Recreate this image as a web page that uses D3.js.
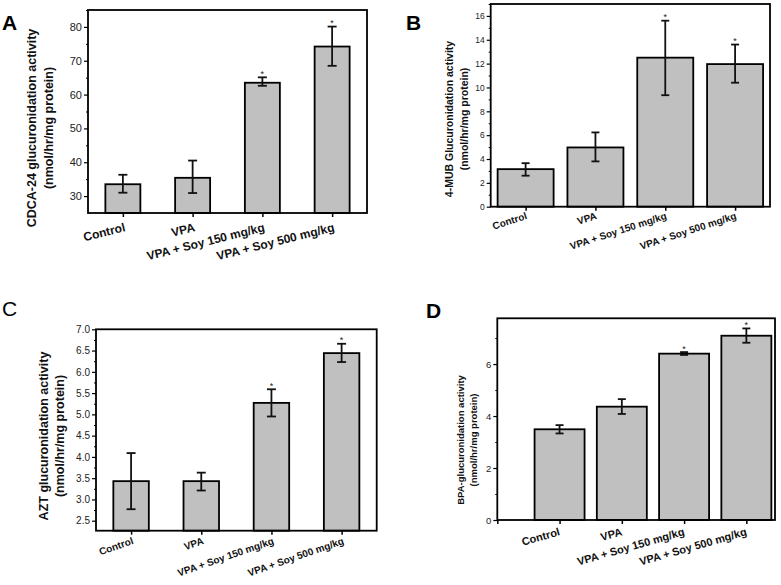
<!DOCTYPE html>
<html><head><meta charset="utf-8">
<script src="https://cdn.jsdelivr.net/npm/d3@7"></script>
<style>body{margin:0;background:#fff}svg{display:block}text{font-family:"Liberation Sans",Arial,sans-serif}</style>
</head><body>
<svg id="c" width="781" height="585"></svg>
<script>
// ---- data ----
const categories = ["Control", "VPA", "VPA + Soy 150 mg/kg", "VPA + Soy 500 mg/kg"];
const cdcaMean = [33.5, 35.4, 63.5, 74.2];
const cdcaErrHi = [36.3, 40.5, 65.1, 80.1];
const cdcaErrLo = [31.0, 30.9, 62.6, 68.5];
const cdcaSig = [false, false, true, true];
const mubMean = [3.15, 4.97, 12.5, 11.96];
const mubErrHi = [3.65, 6.23, 15.6, 13.6];
const mubErrLo = [2.6, 3.8, 9.35, 10.4];
const mubSig = [false, false, true, true];
const aztMean = [3.43, 3.43, 5.27, 6.44];
const aztErrHi = [4.09, 3.63, 5.59, 6.66];
const aztErrLo = [2.77, 3.21, 4.95, 6.23];
const aztSig = [false, false, true, true];
const bpaMean = [3.49, 4.36, 6.4, 7.09];
const bpaErrHi = [3.65, 4.65, 6.46, 7.37];
const bpaErrLo = [3.33, 4.08, 6.35, 6.82];
const bpaSig = [false, false, true, true];
const ticksA = [30, 40, 50, 60, 70, 80];
const ticksB = [0, 2, 4, 6, 8, 10, 12, 14, 16];
const ticksC = [2.5, 3.0, 3.5, 4.0, 4.5, 5.0, 5.5, 6.0, 6.5, 7.0];
const ticksD = [0, 2, 4, 6];

const svg = d3.select("#c");

function panel(o) {
  const g = svg.append("g");
  const x = d3.scaleLinear().domain(o.xDomain).range([o.L, o.R]);
  const y = d3.scaleLinear().domain(o.yDomain).range([o.B, o.T]);
  // bars
  g.selectAll("rect.bar").data(o.mean).join("rect")
    .attr("x", (d, i) => x(i) - o.bw / 2).attr("width", o.bw)
    .attr("y", d => y(d)).attr("height", d => y(o.yDomain[0]) - y(d))
    .attr("fill", "#c0c0c0").attr("stroke", "#000").attr("stroke-width", 1.8);
  // error bars
  const eb = g.append("g").attr("stroke", "#111").attr("stroke-width", 1.8);
  o.mean.forEach((d, i) => {
    const cx = x(i);
    eb.append("line").attr("x1", cx).attr("x2", cx).attr("y1", y(o.hi[i])).attr("y2", y(o.lo[i]));
    eb.append("line").attr("x1", cx - o.cap).attr("x2", cx + o.cap).attr("y1", y(o.hi[i])).attr("y2", y(o.hi[i]));
    eb.append("line").attr("x1", cx - o.cap).attr("x2", cx + o.cap).attr("y1", y(o.lo[i])).attr("y2", y(o.lo[i]));
    if (o.sig[i]) g.append("text").attr("x", cx).attr("y", y(o.hi[i]) - 0.5).attr("text-anchor", "middle")
      .attr("font-size", 9).attr("fill", "#222").text("*");
  });
  // y axis
  const ya = d3.axisLeft(y).tickValues(o.ticks).tickSize(4).tickPadding(2).tickFormat(o.fmt);
  const ay = g.append("g").attr("transform", `translate(${o.L},0)`).call(ya);
  ay.select(".domain").remove();
  ay.selectAll("text").attr("font-size", o.tfs).attr("font-weight", o.tfw).attr("fill", "#222").style("font-family", "Liberation Sans, Arial");
  ay.selectAll("line").attr("stroke-width", 1.2);
  const ym = d3.axisLeft(y).tickValues(o.minor).tickSize(2).tickFormat("");
  const aym = g.append("g").attr("transform", `translate(${o.L},0)`).call(ym);
  aym.select(".domain").remove();
  // x ticks
  const xa = d3.axisBottom(x).tickValues(o.xt).tickSize(4).tickFormat("");
  const ax = g.append("g").attr("transform", `translate(0,${o.B})`).call(xa);
  ax.select(".domain").remove();
  ax.selectAll("line").attr("stroke-width", 1.5);
  // x labels
  categories.forEach((c, i) => {
    g.append("text").attr("text-anchor", "end")
      .attr("transform", `translate(${x(i) + o.ldx},${o.B + o.ldy}) rotate(${o.rot})`)
      .attr("font-size", o.xfs).attr("font-weight", "bold").attr("fill", "#111").text(c);
  });
  // frame
  g.append("rect").attr("x", o.L).attr("y", o.T).attr("width", o.R - o.L).attr("height", o.B - o.T)
    .attr("fill", "none").attr("stroke", "#000").attr("stroke-width", 1.8);
  // y label
  o.ylab.forEach((t, k) => {
    g.append("text").attr("text-anchor", "middle")
      .attr("transform", `translate(${o.ylx[k]},${o.yly}) rotate(-90)`)
      .attr("dy", "0.35em").attr("font-size", o.yfs).attr("font-weight", "bold").attr("fill", "#111").text(t);
  });
  // panel letter
  svg.append("text").attr("x", o.lx).attr("y", o.ly).attr("font-size", o.lfs)
    .attr("font-weight", o.lfw).attr("fill", "#000").text(o.letter);
}

panel({letter: "A", lx: 2, ly: 30, lfs: 21, lfw: "bold",
  L: 88, R: 367, T: 10, B: 213, xDomain: [-0.5, 3.5], yDomain: [25, 85],
  mean: cdcaMean, hi: cdcaErrHi, lo: cdcaErrLo, sig: cdcaSig, bw: 35, cap: 4.5,
  ticks: ticksA, minor: [35, 45, 55, 65, 75, 85], fmt: d3.format("d"), tfs: 11, tfw: "normal",
  xt: [0, 1, 2, 3], ldx: 3, ldy: 18, rot: -14, xfs: 12,
  ylab: ["CDCA-24 glucuronidation activity", "(nmol/hr/mg protein)"], ylx: [32, 49], yly: 128, yfs: 12.5});

panel({letter: "B", lx: 406, ly: 30, lfs: 21, lfw: "bold",
  L: 490.7, R: 770, T: 4, B: 206.7, xDomain: [-0.5, 3.5], yDomain: [0, 17],
  mean: mubMean, hi: mubErrHi, lo: mubErrLo, sig: mubSig, bw: 56, cap: 4,
  ticks: ticksB, minor: [1, 3, 5, 7, 9, 11, 13, 15, 17], fmt: d3.format("d"), tfs: 8.5, tfw: "normal",
  xt: [0, 1, 2, 3], ldx: 2, ldy: 12, rot: -18, xfs: 10,
  ylab: ["4-MUB Glucuronidation activity", "(nmol/hr/mg protein)"], ylx: [449, 464], yly: 119, yfs: 10.5});

panel({letter: "C", lx: 2, ly: 316, lfs: 21, lfw: "normal",
  L: 96, R: 376.7, T: 329.3, B: 530.7, xDomain: [-0.5, 3.5], yDomain: [2.265, 7.0],
  mean: aztMean, hi: aztErrHi, lo: aztErrLo, sig: aztSig, bw: 35.5, cap: 4.5,
  ticks: ticksC, minor: [2.75, 3.25, 3.75, 4.25, 4.75, 5.25, 5.75, 6.25, 6.75], fmt: d3.format(".1f"), tfs: 10, tfw: "normal",
  xt: [0, 1, 2, 3], ldx: 3, ldy: 13, rot: -19, xfs: 10,
  ylab: ["AZT glucuronidation activity", "(nmol/hr/mg protein)"], ylx: [44, 60], yly: 436, yfs: 12.5});

panel({letter: "D", lx: 426, ly: 318, lfs: 21, lfw: "bold",
  L: 497.3, R: 775, T: 318.3, B: 520, xDomain: [-1, 3.46], yDomain: [0, 7.76],
  mean: bpaMean, hi: bpaErrHi, lo: bpaErrLo, sig: bpaSig, bw: 50, cap: 4,
  ticks: ticksD, minor: [1, 3, 5, 7], fmt: d3.format("d"), tfs: 9.5, tfw: "normal",
  xt: [-1, 0, 1, 2, 3], ldx: 1, ldy: 15, rot: -16, xfs: 11,
  ylab: ["BPA-glucuronidation activity", "(nmol/hr/mg protein)"], ylx: [461, 474], yly: 440, yfs: 9.5});
</script>
</body></html>
